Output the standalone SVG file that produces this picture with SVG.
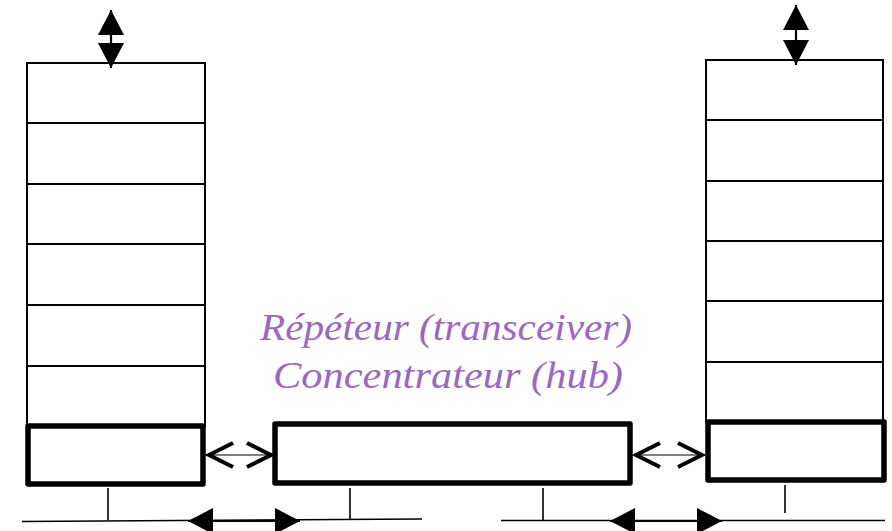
<svg xmlns="http://www.w3.org/2000/svg" width="892" height="531" viewBox="0 0 892 531">
<style>
.thin{fill:#fff;stroke:#000;stroke-width:2}
.thick{fill:#fff;stroke:#000;stroke-width:5.5;stroke-linejoin:round}
.wire{stroke:#000;stroke-width:1.6;fill:none}
.shaft{stroke:#000;stroke-width:2.2;fill:none}
.lbl{font-family:"Liberation Serif","Times New Roman",serif;font-style:italic;font-size:37px;fill:#9966CC}
</style>
<defs>
<marker id="tri" markerUnits="userSpaceOnUse" markerWidth="26" markerHeight="26" viewBox="0 0 26 26" refX="25" refY="13" orient="auto-start-reverse">
<path d="M0,0 L25,13 L0,26 Z" fill="#000"/>
</marker>
<marker id="chev" markerUnits="userSpaceOnUse" markerWidth="32" markerHeight="32" viewBox="-3 -3 32 32" refX="24" refY="12" orient="auto-start-reverse">
<path d="M0,0 L24,12 L0,24" fill="none" stroke="#000" stroke-width="4"/>
</marker>
</defs>

<g id="left-stack">
<rect class="thin" x="27" y="63" width="178" height="60"/>
<rect class="thin" x="27" y="123" width="178" height="61"/>
<rect class="thin" x="27" y="184" width="178" height="60"/>
<rect class="thin" x="27" y="244" width="178" height="61"/>
<rect class="thin" x="27" y="305" width="178" height="61"/>
<rect class="thin" x="27" y="366" width="178" height="60"/>
</g>
<g id="left-box">
<rect class="thick" x="28" y="426" width="175" height="58"/>
</g>
<g id="hub">
<rect class="thick" x="275" y="424" width="355" height="59"/>
</g>
<g id="right-stack">
<rect class="thin" x="706" y="60" width="177" height="60"/>
<rect class="thin" x="706" y="120" width="177" height="61"/>
<rect class="thin" x="706" y="181" width="177" height="60"/>
<rect class="thin" x="706" y="241" width="177" height="60"/>
<rect class="thin" x="706" y="301" width="177" height="61"/>
<rect class="thin" x="706" y="362" width="177" height="60"/>
</g>
<g id="right-box">
<rect class="thick" x="708" y="422" width="176" height="58"/>
</g>
<g id="label">
<text class="lbl" x="260" y="340" textLength="372" lengthAdjust="spacingAndGlyphs">Répéteur (transceiver)</text>
<text class="lbl" x="273" y="388" textLength="350" lengthAdjust="spacingAndGlyphs">Concentrateur (hub)</text>
</g>

<g id="connectors">
<line class="shaft" x1="111" y1="10" x2="111" y2="68" marker-start="url(#tri)" marker-end="url(#tri)"/>
<line class="shaft" x1="796" y1="5" x2="796" y2="65" marker-start="url(#tri)" marker-end="url(#tri)"/>
<line x1="209" y1="455" x2="271" y2="455" stroke="#000" stroke-width="1.2" marker-start="url(#chev)" marker-end="url(#chev)"/>
<line x1="636" y1="455" x2="702" y2="455" stroke="#000" stroke-width="1.2" marker-start="url(#chev)" marker-end="url(#chev)"/>
<line class="wire" x1="108" y1="488" x2="108" y2="520"/>
<line class="wire" x1="350" y1="488" x2="350" y2="519"/>
<line class="wire" x1="543" y1="488" x2="543" y2="520"/>
<line class="wire" x1="785" y1="485" x2="785" y2="513"/>
<line class="wire" x1="22" y1="521.5" x2="422" y2="519"/>
<line class="wire" x1="501" y1="520.5" x2="885" y2="520.5"/>
<line class="shaft" x1="188" y1="521" x2="300" y2="521" marker-start="url(#tri)" marker-end="url(#tri)"/>
<line class="shaft" x1="610" y1="521" x2="722" y2="521" marker-start="url(#tri)" marker-end="url(#tri)"/>
</g>
</svg>
